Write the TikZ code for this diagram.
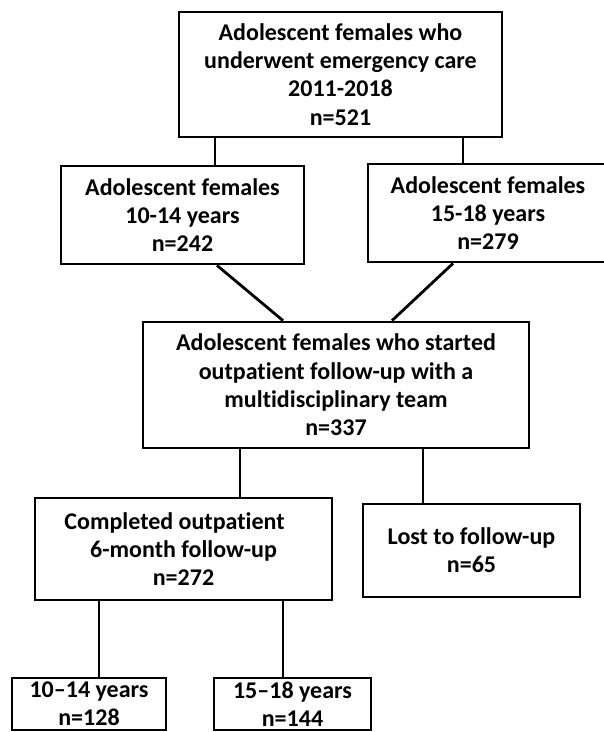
\documentclass[tikz,border=0pt]{standalone}
\usepackage{fontspec}
\setmainfont{Carlito}[Ligatures=NoCommon]
\begin{document}
\begin{tikzpicture}[x=1pt,y=-1pt,
  box/.style={draw=black,line width=2.8pt,rectangle,inner sep=0pt,align=center,
    font=\fontsize{24}{28.3}\selectfont\bfseries},
  conn/.style={draw=black,line width=2.8pt}]
\useasboundingbox[fill=white] (0,0) rectangle (604,732);
\node[box,minimum width=323pt,minimum height=125pt] (top) at (340.5,74.5)
  {Adolescent females who\\underwent emergency care\\2011-2018\\n=521};
\node[box,minimum width=243pt,minimum height=98pt] (left) at (182.5,215)
  {Adolescent females\\10-14 years\\n=242};
\node[box,minimum width=240pt,minimum height=98pt] (right) at (488,213)
  {Adolescent females\\15-18 years\\n=279};
\node[box,minimum width=386pt,minimum height=126pt] (mid) at (336,385)
  {Adolescent females who started\\outpatient follow-up with a\\multidisciplinary team\\n=337};
\node[box,minimum width=297pt,minimum height=102pt] (comp) at (183.5,549)
  {Completed outpatient\hspace*{18pt}\mbox{}\\6-month follow-up\\n=272};
\node[box,minimum width=217pt,minimum height=93pt] (lost) at (471.5,550.5)
  {Lost to follow-up\\n=65};
\node[box,minimum width=154pt,minimum height=52pt] (ya) at (89,704)
  {10–14 years\\n=128};
\node[box,minimum width=157pt,minimum height=52pt] (yb) at (292.5,704)
  {15–18 years\\n=144};
\coordinate (c1) at (215,0);
\coordinate (c2) at (463,0);
\coordinate (d1) at (217,0);
\coordinate (d2) at (283,0);
\coordinate (d3) at (453,0);
\coordinate (d4) at (392,0);
\coordinate (e1) at (240,0);
\coordinate (e2) at (423,0);
\coordinate (f1) at (99,0);
\coordinate (f2) at (283,0);
\draw[conn] (top.south -| c1) -- (left.north -| c1);
\draw[conn] (top.south -| c2) -- (right.north -| c2);
\draw[conn] (left.south -| d1) -- (mid.north -| d2);
\draw[conn] (right.south -| d3) -- (mid.north -| d4);
\draw[conn] (mid.south -| e1) -- (comp.north -| e1);
\draw[conn] (mid.south -| e2) -- (lost.north -| e2);
\draw[conn] (comp.south -| f1) -- (ya.north -| f1);
\draw[conn] (comp.south -| f2) -- (yb.north -| f2);
\end{tikzpicture}
\end{document}
